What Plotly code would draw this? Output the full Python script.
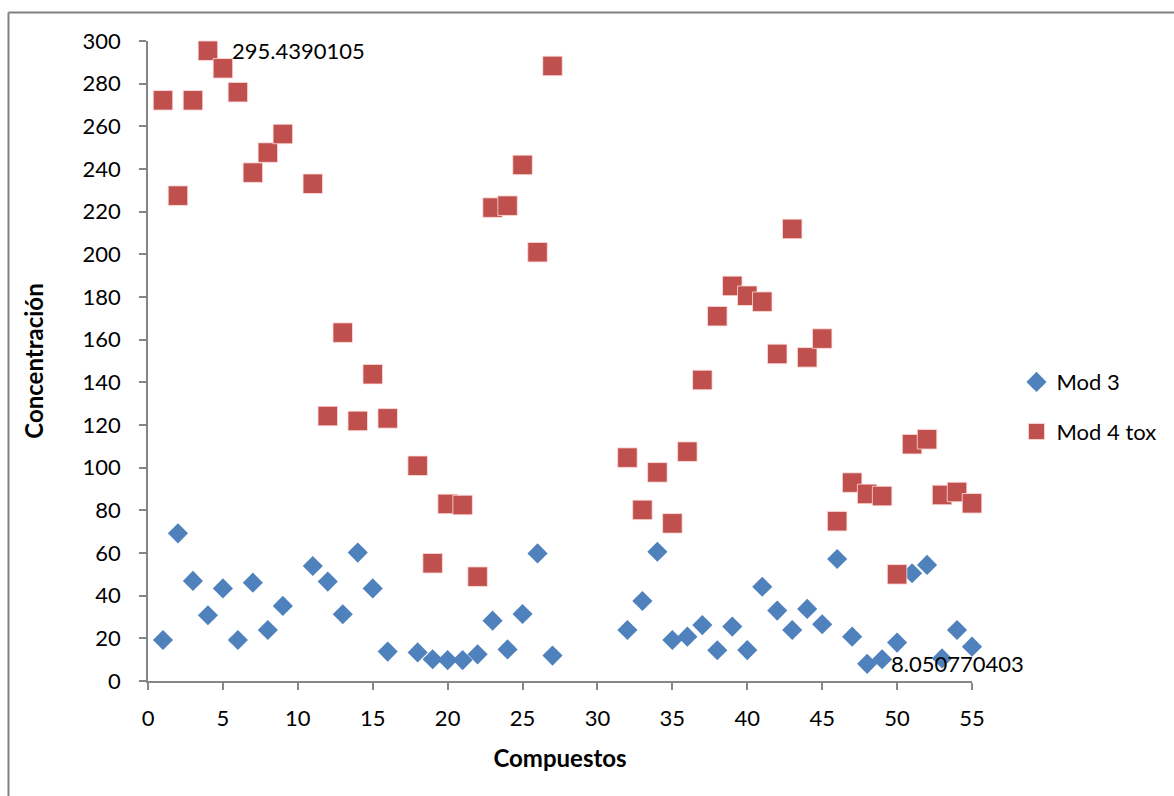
import plotly.graph_objects as go

# Compound numbers (no results for 10, 17 and 28-31)
compuestos = [1, 2, 3, 4, 5, 6, 7, 8, 9,
              11, 12, 13, 14, 15, 16,
              18, 19, 20, 21, 22, 23, 24, 25, 26, 27,
              32, 33, 34, 35, 36, 37, 38, 39, 40, 41, 42, 43, 44, 45,
              46, 47, 48, 49, 50, 51, 52, 53, 54, 55]

mod3 = [19.2, 69.2, 46.9, 30.8, 43.4, 19.2, 46.1, 23.9, 35.2,
        53.9, 46.6, 31.3, 60.2, 43.4, 13.8,
        13.4, 10.2, 9.8, 9.8, 12.5, 28.3, 14.8, 31.4, 59.8, 11.9,
        23.9, 37.5, 60.6, 19.2, 20.8, 26.2, 14.4, 25.5, 14.5, 44.2, 33.0, 23.9, 33.8, 26.6,
        57.2, 20.8, 8.050770403, 10.2, 18.0, 50.5, 54.4, 10.6, 23.9, 16.1]

mod4_tox = [272.2, 227.5, 272.2, 295.4390105, 287.2, 276.0, 238.3, 247.7, 256.4,
            233.1, 124.2, 163.3, 121.9, 143.8, 123.1,
            100.9, 55.2, 83.0, 82.5, 48.9, 221.9, 222.8, 241.9, 201.0, 288.3,
            104.7, 80.2, 97.8, 73.9, 107.5, 141.1, 171.0, 185.2, 180.6, 177.8, 153.3, 211.9, 151.7, 160.5,
            74.9, 93.0, 87.7, 86.7, 50.0, 111.0, 113.3, 87.2, 88.6, 83.3]

x_ticks = list(range(0, 56, 5))
y_ticks = list(range(0, 301, 20))

FONT = "Lato, 'Open Sans', sans-serif"
AXIS_GRAY = "#868686"

fig = go.Figure()
fig.add_trace(go.Scatter(
    x=compuestos, y=mod3, mode="markers", name="Mod 3", legendgroup="a",
    cliponaxis=False,
    marker=dict(symbol="diamond", size=15.5, color="#4F81BD",
                line=dict(width=0)),
))
fig.add_trace(go.Scatter(
    x=compuestos, y=mod4_tox, mode="markers", name="Mod 4 tox", legendgroup="b",
    cliponaxis=False,
    marker=dict(symbol="square", size=19.5, color="#C0504D",
                line=dict(width=1, color="rgba(255,220,220,0.8)")),
))

# Value labels for the maximum of Mod 4 tox and the minimum of Mod 3
i_max = mod4_tox.index(max(mod4_tox))
i_min = mod3.index(min(mod3))
for xv, yv in [(compuestos[i_max], mod4_tox[i_max]), (compuestos[i_min], mod3[i_min])]:
    fig.add_annotation(x=xv, y=yv, text=f"{yv}", showarrow=False,
                       xanchor="left", yanchor="middle", xshift=22,
                       font=dict(family=FONT, size=22, color="black"))

# Chart frame (left and top edges inside the page), drawn in pixels from the
# plot-area origin so it does not depend on axis ranges
frame_line = dict(color="#808080", width=2)
fig.add_shape(type="line", xref="paper", yref="paper", xsizemode="pixel", ysizemode="pixel",
              xanchor=0, yanchor=0, x0=8.5 - 148, x1=8.5 - 148, y0=-125, y1=681 - 12.5,
              line=frame_line, layer="above")
fig.add_shape(type="line", xref="paper", yref="paper", xsizemode="pixel", ysizemode="pixel",
              xanchor=0, yanchor=0, x0=8.5 - 148, x1=1180 - 148, y0=681 - 12.5, y1=681 - 12.5,
              line=frame_line, layer="above")

axis_common = dict(
    showgrid=False, zeroline=False, showline=True, linecolor=AXIS_GRAY, linewidth=1.5,
    ticks="outside", ticklen=7, tickwidth=1.5, tickcolor=AXIS_GRAY,
    tickfont=dict(family=FONT, size=22, color="black"),
)

fig.update_xaxes(**axis_common, range=[0, 55], tickvals=x_ticks,
                 ticklabelstandoff=10,
                 title=dict(text="<b>Compuestos</b>", standoff=20,
                            font=dict(family=FONT, size=24, color="black")))
fig.update_yaxes(**axis_common, range=[0, 300], tickvals=y_ticks,
                 ticklabelstandoff=14,
                 title=dict(text="<b>Concentración</b>", standoff=32,
                            font=dict(family=FONT, size=24, color="black")))

fig.update_layout(
    width=1174, height=796,
    margin=dict(l=148, r=202, t=41, b=115),
    paper_bgcolor="white", plot_bgcolor="white",
    font=dict(family=FONT, size=22, color="black"),
    legend=dict(x=1.054, y=0.428, xanchor="left", yanchor="middle",
                font=dict(family=FONT, size=22, color="black"),
                tracegroupgap=18, traceorder="grouped",
                itemwidth=30, bgcolor="rgba(0,0,0,0)"),
    showlegend=True,
)

fig.write_html("out.html", config={"displayModeBar": False})
